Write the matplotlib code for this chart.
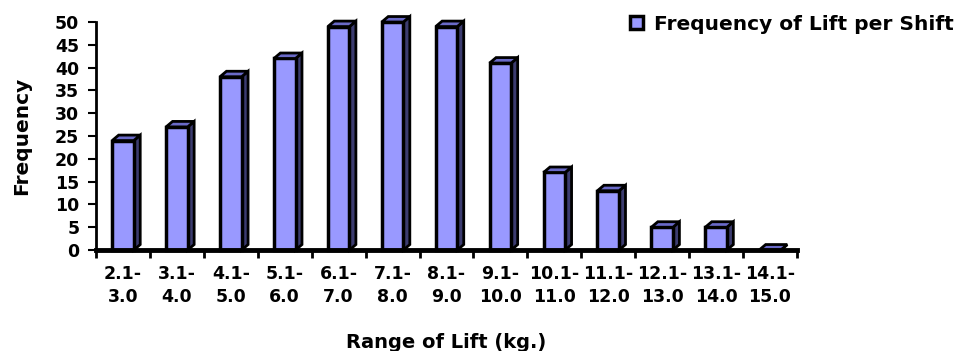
import numpy as np
import matplotlib
matplotlib.use("Agg")
import matplotlib.pyplot as plt
from matplotlib.patches import Polygon, Patch

plt.rcParams['font.family'] = ['DejaVu Sans']
plt.rcParams['font.weight'] = 'bold'
plt.rcParams['axes.labelweight'] = 'bold'

# lift ranges and how often each occurred per shift
lo_kg = ['2.1', '3.1', '4.1', '5.1', '6.1', '7.1', '8.1', '9.1', '10.1', '11.1', '12.1', '13.1', '14.1']
hi_kg = ['3.0', '4.0', '5.0', '6.0', '7.0', '8.0', '9.0', '10.0', '11.0', '12.0', '13.0', '14.0', '15.0']
freq = [24, 27, 38, 42, 49, 50, 49, 41, 17, 13, 5, 5, 0]

front_col = '#9999FF'
side_col = '#3C3C70'
top_col = '#6A6AC8'

fig = plt.figure(figsize=(9.61, 3.51), dpi=100)
ax = fig.add_axes([0.0999, 0.2877, 0.7294, 0.6496])

x = np.arange(len(freq)) + 0.5
w = 0.40
dx, dy = 0.12, 1.2   # fake depth of the 3d bars

ax.bar(x, freq, width=w, color=front_col, edgecolor='black', linewidth=2.5, zorder=3, clip_on=False)
for xi, v in zip(x, freq):
    l, r = xi - w / 2, xi + w / 2
    side = Polygon([(r, 0), (r + dx, dy), (r + dx, v + dy), (r, v)], closed=True,
                   facecolor=side_col, edgecolor='black', linewidth=2, zorder=2, clip_on=False)
    top = Polygon([(l, v), (l + dx, v + dy), (r + dx, v + dy), (r, v)], closed=True,
                  facecolor=top_col, edgecolor='black', linewidth=2, zorder=4, clip_on=False)
    ax.add_patch(side)
    ax.add_patch(top)

ax.set_xlim(0, len(freq))
ax.set_ylim(0, 50)
ax.set_yticks(range(0, 51, 5))
ax.set_xticks(x)
ax.set_xticklabels([a + '-\n' + b for a, b in zip(lo_kg, hi_kg)], fontsize=12.5, linespacing=1.35)
ax.set_xticks(np.arange(len(freq) + 1), minor=True)
ax.tick_params(axis='x', which='major', length=0, pad=11)
ax.tick_params(axis='x', which='minor', length=6, width=2, direction='out')
ax.tick_params(axis='y', length=6, width=1.5, direction='out', labelsize=12.5, pad=6)

for s in ['top', 'right']:
    ax.spines[s].set_visible(False)
ax.spines['left'].set_linewidth(2)
ax.spines['bottom'].set_linewidth(3.5)
ax.spines['bottom'].set_zorder(5)

ax.set_ylabel('Frequency', fontsize=14.5, labelpad=17)
ax.set_xlabel('Range of Lift (kg.)', fontsize=14, labelpad=19)

handle = Patch(facecolor=front_col, edgecolor='black', linewidth=2.5)
fig.legend([handle], ['Frequency of Lift per Shift'], loc='upper left',
           bbox_to_anchor=(0.637, 1.01), frameon=False, fontsize=14.5,
           handlelength=0.65, handleheight=0.65, handletextpad=0.55)

fig.savefig('out.png', dpi=100)
